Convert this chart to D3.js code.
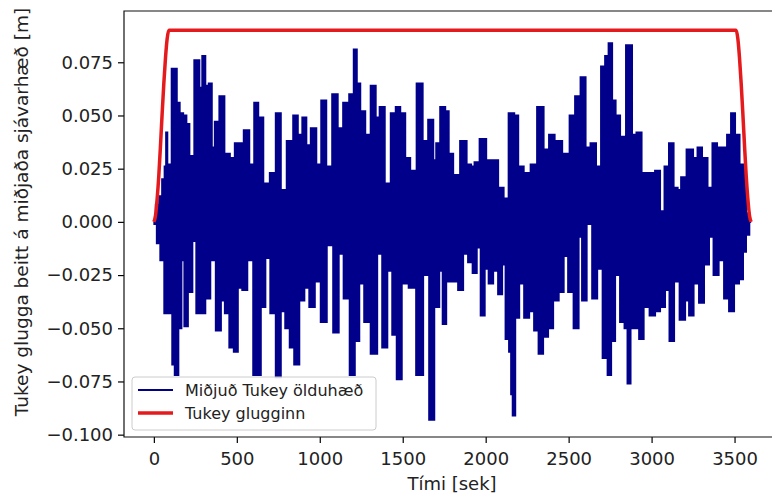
<!DOCTYPE html>
<html>
<head>
<meta charset="utf-8">
<script src="https://cdn.jsdelivr.net/npm/d3@7"></script>
<style>
  html, body { margin: 0; padding: 0; background: #fff; }
  svg { display: block; font-family: "DejaVu Sans", sans-serif; }
</style>
</head>
<body>
<svg id="chart" width="772" height="497"></svg>
<script>
// ---- data ----
// local crests of the centred, Tukey-windowed wave height signal: [time s, value m]
const crestPoints = [
  [0,0.000],[24,0.008],[40,0.012],[60,0.020],[70,0.026],
  [78,0.042],[84,0.027],[131,0.072],[145,0.056],[166,0.051],[187,0.050],[205,0.046],[223,0.031],
  [265,0.076],[283,0.063],[301,0.078],[319,0.064],[343,0.065],[355,0.035],[380,0.047],[410,0.059],
  [440,0.032],[476,0.030],[500,0.037],[524,0.037],[560,0.043],[590,0.027],[620,0.056],[638,0.049],
  [681,0.018],[717,0.023],[753,0.051],[777,0.015],[825,0.038],[855,0.050],[880,0.041],[910,0.049],
  [928,0.036],[964,0.044],[994,0.027],[1024,0.057],[1054,0.026],[1096,0.060],[1120,0.044],[1162,0.056],
  [1193,0.060],[1217,0.081],[1229,0.065],[1259,0.052],[1289,0.041],[1325,0.064],[1349,0.049],[1373,0.054],
  [1410,0.018],[1446,0.051],[1470,0.054],[1500,0.051],[1530,0.030],[1560,0.024],[1608,0.065],[1632,0.038],
  [1675,0.048],[1693,0.029],[1711,0.037],[1741,0.054],[1771,0.052],[1783,0.032],[1825,0.022],[1867,0.038],
  [1903,0.027],[1921,0.026],[1945,0.028],[1982,0.039],[2024,0.029],[2054,0.029],[2096,0.016],[2120,0.011],
  [2157,0.051],[2187,0.050],[2205,0.026],[2253,0.023],[2289,0.027],[2331,0.054],[2367,0.034],[2397,0.041],
  [2434,0.038],[2488,0.032],[2524,0.050],[2554,0.059],[2590,0.068],[2614,0.035],[2650,0.037],[2680,0.026],
  [2711,0.073],[2729,0.078],[2753,0.084],[2771,0.057],[2795,0.050],[2825,0.040],[2867,0.083],[2897,0.041],
  [2921,0.042],[2958,0.023],[3006,0.023],[3036,0.024],[3066,0.005],[3090,0.026],[3120,0.037],[3145,0.016],
  [3169,0.015],[3187,0.021],[3235,0.034],[3265,0.030],[3289,0.035],[3319,0.030],[3355,0.016],[3379,0.037],
  [3410,0.035],[3440,0.035],[3470,0.041],[3488,0.051],[3518,0.041],[3542,0.027],[3560,0.026],[3578,0.004],
  [3600,0.000]
];
// local troughs of the same signal: [time s, value m]
const troughPoints = [
  [0,0.000],[6,-0.001],[30,-0.010],[48,-0.018],[78,-0.043],[108,-0.043],[114,-0.067],[138,-0.072],[157,-0.050],[175,-0.018],
  [193,-0.049],[217,-0.033],[247,-0.009],[265,-0.043],[295,-0.043],[325,-0.036],[355,-0.018],[392,-0.051],
  [416,-0.037],[440,-0.043],[470,-0.059],[494,-0.061],[518,-0.031],[548,-0.032],[578,-0.018],[620,-0.072],
  [632,-0.072],[657,-0.040],[687,-0.017],[717,-0.043],[753,-0.073],[777,-0.042],[807,-0.050],[831,-0.059],
  [861,-0.067],[892,-0.037],[922,-0.031],[952,-0.040],[988,-0.028],[1024,-0.047],[1060,-0.011],[1102,-0.052],
  [1126,-0.015],[1162,-0.036],[1199,-0.072],[1223,-0.056],[1253,-0.029],[1283,-0.047],[1331,-0.062],[1361,-0.015],
  [1392,-0.059],[1422,-0.023],[1452,-0.053],[1476,-0.074],[1512,-0.029],[1560,-0.031],[1602,-0.072],[1644,-0.025],
  [1675,-0.093],[1705,-0.040],[1735,-0.023],[1747,-0.048],[1777,-0.028],[1819,-0.028],[1849,-0.032],[1879,-0.015],
  [1909,-0.019],[1934,-0.024],[1958,-0.012],[1982,-0.044],[2006,-0.022],[2030,-0.029],[2060,-0.023],[2090,-0.034],
  [2108,-0.020],[2132,-0.055],[2150,-0.061],[2157,-0.081],[2169,-0.091],[2187,-0.045],[2217,-0.029],[2247,-0.045],
  [2277,-0.042],[2307,-0.051],[2331,-0.062],[2361,-0.054],[2391,-0.050],[2422,-0.037],[2458,-0.033],[2482,-0.016],
  [2512,-0.033],[2548,-0.050],[2572,-0.007],[2590,-0.037],[2627,-0.001],[2657,-0.036],[2687,-0.022],[2723,-0.064],
  [2747,-0.072],[2765,-0.056],[2795,-0.025],[2825,-0.047],[2849,-0.050],[2861,-0.076],[2885,-0.050],[2916,-0.050],
  [2934,-0.055],[2970,-0.040],[3006,-0.044],[3036,-0.042],[3066,-0.040],[3096,-0.032],[3120,-0.056],[3151,-0.028],
  [3187,-0.046],[3217,-0.037],[3235,-0.044],[3271,-0.029],[3301,-0.038],[3331,-0.020],[3361,-0.007],[3386,-0.025],
  [3422,-0.018],[3452,-0.036],[3482,-0.042],[3512,-0.029],[3542,-0.027],[3560,-0.014],[3578,-0.006],[3600,0.000]
];
// Tukey window (red curve)
const windowTimes  = [0,10,20,30,40,50,60,70,80,90,3510,3520,3530,3540,3550,3560,3570,3580,3590,3600];
const windowValues = [0,0.003,0.011,0.022,0.036,0.051,0.065,0.077,0.086,0.090,0.090,0.086,0.077,0.065,0.051,0.036,0.022,0.011,0.003,0];

const xTicks = [0,500,1000,1500,2000,2500,3000,3500];
const yTicks = [-0.100,-0.075,-0.050,-0.025,0.000,0.025,0.050,0.075];
const seriesNames = ["Miðjuð Tukey ölduhæð", "Tukey glugginn"];
const xLabel = "Tími [sek]";
const yLabel = "Tukey glugga beitt á miðjaða sjávarhæð [m]";

// ---- drawing ----
const svg = d3.select("#chart");
const mLeft = 124, mTop = 11, mBottom = 437, mRight = 781;
const x = d3.scaleLinear().domain([-180, 3780]).range([mLeft, mRight]);
const y = d3.scaleLinear().domain([-0.1011, 0.0991]).range([mBottom, mTop]);

const crests = crestPoints.map(d => ({t: d[0], v: d[1]}));
const troughs = troughPoints.map(d => ({t: d[0], v: d[1]}));
const windowData = windowTimes.map((t, i) => ({t, v: windowValues[i]}));

const blue = "#00008b", red = "#e41a1c";

svg.append("defs").append("clipPath").attr("id", "clip")
  .append("rect").attr("x", mLeft).attr("y", mTop).attr("width", mRight - mLeft).attr("height", mBottom - mTop);

const plot = svg.append("g").attr("clip-path", "url(#clip)");
// wave signal: dense oscillation drawn as the band between its crests and troughs
const band = d3.area().x(d => x(d.t)).y0(y(0)).y1(d => y(d.v)).curve(d3.curveStep);
[crests, troughs].forEach(data => {
  plot.append("path").datum(data).attr("d", band)
    .attr("fill", blue).attr("stroke", blue).attr("stroke-width", 2).attr("stroke-linejoin", "miter");
});
plot.append("path").datum(windowData)
  .attr("d", d3.line().x(d => x(d.t)).y(d => y(d.v)).curve(d3.curveMonotoneX))
  .attr("fill", "none").attr("stroke", red).attr("stroke-width", 3.5).attr("stroke-linejoin", "round");

// axes
const xAxis = svg.append("g").attr("transform", `translate(0,${mBottom})`)
  .call(d3.axisBottom(x).tickValues(xTicks).tickSize(6).tickPadding(5).tickFormat(d3.format("d")));
const yAxis = svg.append("g").attr("transform", `translate(${mLeft},0)`)
  .call(d3.axisLeft(y).tickValues(yTicks).tickSize(6).tickPadding(5).tickFormat(d3.format(".3f")));
[xAxis, yAxis].forEach(g => {
  g.select(".domain").remove();
  g.selectAll(".tick line").attr("stroke", "#000").attr("stroke-width", 1.2);
  g.selectAll(".tick text").attr("fill", "#222").style("font-size", "18px").style("font-family", "DejaVu Sans");
});
xAxis.selectAll(".tick text").attr("dy", "0.95em");

// frame
svg.append("path")
  .attr("d", `M${mRight},${mTop}H${mLeft}V${mBottom}H${mRight}`)
  .attr("fill", "none").attr("stroke", "#111").attr("stroke-width", 1.2);

// axis labels
svg.append("text").attr("x", 452).attr("y", 490).attr("text-anchor", "middle")
  .style("font-size", "18px").attr("fill", "#222").text(xLabel);
svg.append("text").attr("transform", `translate(28,212) rotate(-90)`)
  .attr("text-anchor", "middle").style("font-size", "18.5px").attr("fill", "#222").text(yLabel);

// legend
const lg = svg.append("g");
lg.append("rect").attr("x", 132).attr("y", 377).attr("width", 244).attr("height", 53)
  .attr("rx", 3).attr("fill", "#fff").attr("fill-opacity", 0.8).attr("stroke", "#ccc");
[[blue, 2.2], [red, 3.5]].forEach((s, i) => {
  const yy = 390 + i * 23;
  lg.append("line").attr("x1", 138).attr("x2", 173).attr("y1", yy).attr("y2", yy)
    .attr("stroke", s[0]).attr("stroke-width", s[1]);
  lg.append("text").attr("x", 185).attr("y", yy).attr("dy", "0.35em")
    .style("font-size", "16px").attr("fill", "#222").text(seriesNames[i]);
});
</script>
</body>
</html>
